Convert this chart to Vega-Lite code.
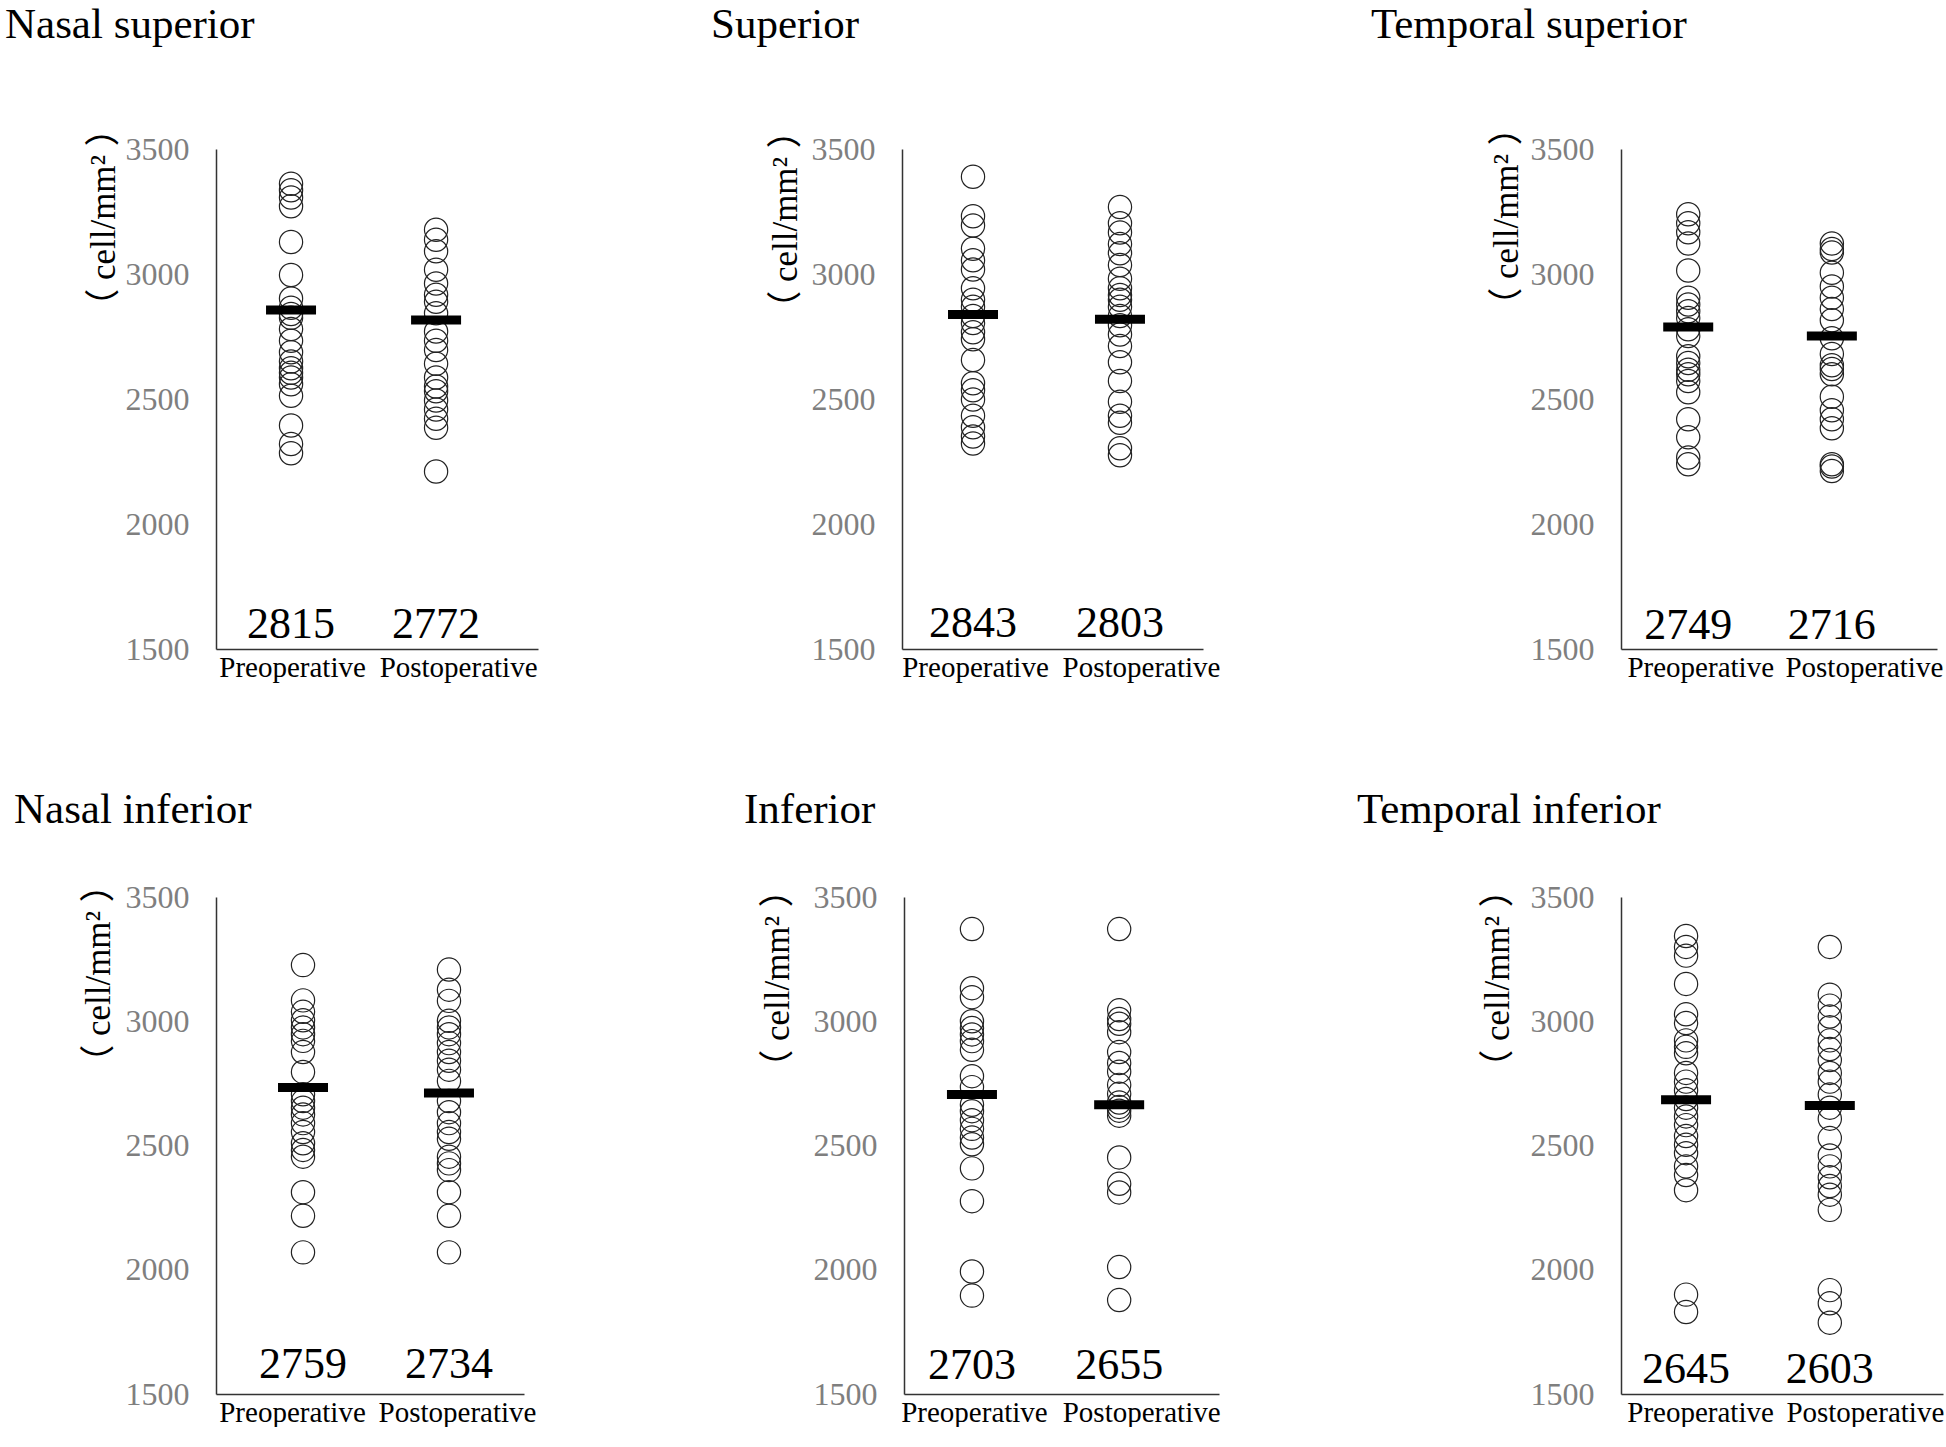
{
  "$schema": "https://vega.github.io/schema/vega-lite/v6.json",
  "padding": {"left": 5, "top": 3, "right": 0, "bottom": 0},
  "background": "white",
  "datasets": {
    "pts": [
      {"panel":"P1","phase":"Preoperative","value":3361},{"panel":"P1","phase":"Preoperative","value":3335},{"panel":"P1","phase":"Preoperative","value":3306},{"panel":"P1","phase":"Preoperative","value":3271},{"panel":"P1","phase":"Preoperative","value":3128},{"panel":"P1","phase":"Preoperative","value":2996},{"panel":"P1","phase":"Preoperative","value":2902},{"panel":"P1","phase":"Preoperative","value":2865},{"panel":"P1","phase":"Preoperative","value":2840},{"panel":"P1","phase":"Preoperative","value":2825},{"panel":"P1","phase":"Preoperative","value":2780},{"panel":"P1","phase":"Preoperative","value":2733},{"panel":"P1","phase":"Preoperative","value":2687},{"panel":"P1","phase":"Preoperative","value":2650},{"panel":"P1","phase":"Preoperative","value":2623},{"panel":"P1","phase":"Preoperative","value":2605},{"panel":"P1","phase":"Preoperative","value":2586},{"panel":"P1","phase":"Preoperative","value":2559},{"panel":"P1","phase":"Preoperative","value":2513},{"panel":"P1","phase":"Preoperative","value":2394},{"panel":"P1","phase":"Preoperative","value":2320},{"panel":"P1","phase":"Preoperative","value":2283},
      {"panel":"P1","phase":"Postoperative","value":3177},{"panel":"P1","phase":"Postoperative","value":3137},{"panel":"P1","phase":"Postoperative","value":3091},{"panel":"P1","phase":"Postoperative","value":3017},{"panel":"P1","phase":"Postoperative","value":2962},{"panel":"P1","phase":"Postoperative","value":2917},{"panel":"P1","phase":"Postoperative","value":2889},{"panel":"P1","phase":"Postoperative","value":2843},{"panel":"P1","phase":"Postoperative","value":2770},{"panel":"P1","phase":"Postoperative","value":2733},{"panel":"P1","phase":"Postoperative","value":2696},{"panel":"P1","phase":"Postoperative","value":2641},{"panel":"P1","phase":"Postoperative","value":2586},{"panel":"P1","phase":"Postoperative","value":2550},{"panel":"P1","phase":"Postoperative","value":2531},{"panel":"P1","phase":"Postoperative","value":2494},{"panel":"P1","phase":"Postoperative","value":2458},{"panel":"P1","phase":"Postoperative","value":2421},{"panel":"P1","phase":"Postoperative","value":2385},{"panel":"P1","phase":"Postoperative","value":2210},
      {"panel":"P2","phase":"Preoperative","value":3389},{"panel":"P2","phase":"Preoperative","value":3231},{"panel":"P2","phase":"Preoperative","value":3194},{"panel":"P2","phase":"Preoperative","value":3101},{"panel":"P2","phase":"Preoperative","value":3055},{"panel":"P2","phase":"Preoperative","value":3018},{"panel":"P2","phase":"Preoperative","value":2943},{"panel":"P2","phase":"Preoperative","value":2897},{"panel":"P2","phase":"Preoperative","value":2869},{"panel":"P2","phase":"Preoperative","value":2832},{"panel":"P2","phase":"Preoperative","value":2804},{"panel":"P2","phase":"Preoperative","value":2767},{"panel":"P2","phase":"Preoperative","value":2739},{"panel":"P2","phase":"Preoperative","value":2656},{"panel":"P2","phase":"Preoperative","value":2563},{"panel":"P2","phase":"Preoperative","value":2535},{"panel":"P2","phase":"Preoperative","value":2498},{"panel":"P2","phase":"Preoperative","value":2433},{"panel":"P2","phase":"Preoperative","value":2387},{"panel":"P2","phase":"Preoperative","value":2350},{"panel":"P2","phase":"Preoperative","value":2322},
      {"panel":"P2","phase":"Postoperative","value":3268},{"panel":"P2","phase":"Postoperative","value":3203},{"panel":"P2","phase":"Postoperative","value":3166},{"panel":"P2","phase":"Postoperative","value":3120},{"panel":"P2","phase":"Postoperative","value":3083},{"panel":"P2","phase":"Postoperative","value":3036},{"panel":"P2","phase":"Postoperative","value":2981},{"panel":"P2","phase":"Postoperative","value":2943},{"panel":"P2","phase":"Postoperative","value":2916},{"panel":"P2","phase":"Postoperative","value":2897},{"panel":"P2","phase":"Postoperative","value":2869},{"panel":"P2","phase":"Postoperative","value":2832},{"panel":"P2","phase":"Postoperative","value":2795},{"panel":"P2","phase":"Postoperative","value":2758},{"panel":"P2","phase":"Postoperative","value":2712},{"panel":"P2","phase":"Postoperative","value":2647},{"panel":"P2","phase":"Postoperative","value":2572},{"panel":"P2","phase":"Postoperative","value":2489},{"panel":"P2","phase":"Postoperative","value":2433},{"panel":"P2","phase":"Postoperative","value":2405},{"panel":"P2","phase":"Postoperative","value":2303},{"panel":"P2","phase":"Postoperative","value":2275},
      {"panel":"P3","phase":"Preoperative","value":3239},{"panel":"P3","phase":"Preoperative","value":3203},{"panel":"P3","phase":"Preoperative","value":3167},{"panel":"P3","phase":"Preoperative","value":3122},{"panel":"P3","phase":"Preoperative","value":3014},{"panel":"P3","phase":"Preoperative","value":2905},{"panel":"P3","phase":"Preoperative","value":2878},{"panel":"P3","phase":"Preoperative","value":2851},{"panel":"P3","phase":"Preoperative","value":2824},{"panel":"P3","phase":"Preoperative","value":2779},{"panel":"P3","phase":"Preoperative","value":2752},{"panel":"P3","phase":"Preoperative","value":2671},{"panel":"P3","phase":"Preoperative","value":2644},{"panel":"P3","phase":"Preoperative","value":2617},{"panel":"P3","phase":"Preoperative","value":2599},{"panel":"P3","phase":"Preoperative","value":2572},{"panel":"P3","phase":"Preoperative","value":2527},{"panel":"P3","phase":"Preoperative","value":2419},{"panel":"P3","phase":"Preoperative","value":2347},{"panel":"P3","phase":"Preoperative","value":2266},{"panel":"P3","phase":"Preoperative","value":2239},
      {"panel":"P3","phase":"Postoperative","value":3122},{"panel":"P3","phase":"Postoperative","value":3100},{"panel":"P3","phase":"Postoperative","value":3086},{"panel":"P3","phase":"Postoperative","value":3005},{"panel":"P3","phase":"Postoperative","value":2950},{"panel":"P3","phase":"Postoperative","value":2905},{"panel":"P3","phase":"Postoperative","value":2860},{"panel":"P3","phase":"Postoperative","value":2815},{"panel":"P3","phase":"Postoperative","value":2743},{"panel":"P3","phase":"Postoperative","value":2680},{"panel":"P3","phase":"Postoperative","value":2635},{"panel":"P3","phase":"Postoperative","value":2620},{"panel":"P3","phase":"Postoperative","value":2599},{"panel":"P3","phase":"Postoperative","value":2509},{"panel":"P3","phase":"Postoperative","value":2455},{"panel":"P3","phase":"Postoperative","value":2419},{"panel":"P3","phase":"Postoperative","value":2383},{"panel":"P3","phase":"Postoperative","value":2239},{"panel":"P3","phase":"Postoperative","value":2230},{"panel":"P3","phase":"Postoperative","value":2212},
      {"panel":"P4","phase":"Preoperative","value":3226},{"panel":"P4","phase":"Preoperative","value":3084},{"panel":"P4","phase":"Preoperative","value":3038},{"panel":"P4","phase":"Preoperative","value":3004},{"panel":"P4","phase":"Preoperative","value":2975},{"panel":"P4","phase":"Preoperative","value":2948},{"panel":"P4","phase":"Preoperative","value":2921},{"panel":"P4","phase":"Preoperative","value":2876},{"panel":"P4","phase":"Preoperative","value":2796},{"panel":"P4","phase":"Preoperative","value":2706},{"panel":"P4","phase":"Preoperative","value":2679},{"panel":"P4","phase":"Preoperative","value":2652},{"panel":"P4","phase":"Preoperative","value":2625},{"panel":"P4","phase":"Preoperative","value":2590},{"panel":"P4","phase":"Preoperative","value":2554},{"panel":"P4","phase":"Preoperative","value":2509},{"panel":"P4","phase":"Preoperative","value":2482},{"panel":"P4","phase":"Preoperative","value":2455},{"panel":"P4","phase":"Preoperative","value":2312},{"panel":"P4","phase":"Preoperative","value":2217},{"panel":"P4","phase":"Preoperative","value":2070},
      {"panel":"P4","phase":"Postoperative","value":3208},{"panel":"P4","phase":"Postoperative","value":3127},{"panel":"P4","phase":"Postoperative","value":3082},{"panel":"P4","phase":"Postoperative","value":3002},{"panel":"P4","phase":"Postoperative","value":2975},{"panel":"P4","phase":"Postoperative","value":2948},{"panel":"P4","phase":"Postoperative","value":2912},{"panel":"P4","phase":"Postoperative","value":2876},{"panel":"P4","phase":"Postoperative","value":2841},{"panel":"P4","phase":"Postoperative","value":2805},{"panel":"P4","phase":"Postoperative","value":2760},{"panel":"P4","phase":"Postoperative","value":2679},{"panel":"P4","phase":"Postoperative","value":2634},{"panel":"P4","phase":"Postoperative","value":2590},{"panel":"P4","phase":"Postoperative","value":2554},{"panel":"P4","phase":"Postoperative","value":2527},{"panel":"P4","phase":"Postoperative","value":2455},{"panel":"P4","phase":"Postoperative","value":2428},{"panel":"P4","phase":"Postoperative","value":2401},{"panel":"P4","phase":"Postoperative","value":2312},{"panel":"P4","phase":"Postoperative","value":2217},{"panel":"P4","phase":"Postoperative","value":2070},
      {"panel":"P5","phase":"Preoperative","value":3371},{"panel":"P5","phase":"Preoperative","value":3133},{"panel":"P5","phase":"Preoperative","value":3097},{"panel":"P5","phase":"Preoperative","value":3000},{"panel":"P5","phase":"Preoperative","value":2973},{"panel":"P5","phase":"Preoperative","value":2947},{"panel":"P5","phase":"Preoperative","value":2920},{"panel":"P5","phase":"Preoperative","value":2885},{"panel":"P5","phase":"Preoperative","value":2779},{"panel":"P5","phase":"Preoperative","value":2735},{"panel":"P5","phase":"Preoperative","value":2664},{"panel":"P5","phase":"Preoperative","value":2638},{"panel":"P5","phase":"Preoperative","value":2602},{"panel":"P5","phase":"Preoperative","value":2567},{"panel":"P5","phase":"Preoperative","value":2532},{"panel":"P5","phase":"Preoperative","value":2505},{"panel":"P5","phase":"Preoperative","value":2408},{"panel":"P5","phase":"Preoperative","value":2276},{"panel":"P5","phase":"Preoperative","value":1993},{"panel":"P5","phase":"Preoperative","value":1896},
      {"panel":"P5","phase":"Postoperative","value":3371},{"panel":"P5","phase":"Postoperative","value":3044},{"panel":"P5","phase":"Postoperative","value":3009},{"panel":"P5","phase":"Postoperative","value":2990},{"panel":"P5","phase":"Postoperative","value":2956},{"panel":"P5","phase":"Postoperative","value":2876},{"panel":"P5","phase":"Postoperative","value":2832},{"panel":"P5","phase":"Postoperative","value":2797},{"panel":"P5","phase":"Postoperative","value":2744},{"panel":"P5","phase":"Postoperative","value":2708},{"panel":"P5","phase":"Postoperative","value":2673},{"panel":"P5","phase":"Postoperative","value":2655},{"panel":"P5","phase":"Postoperative","value":2640},{"panel":"P5","phase":"Postoperative","value":2620},{"panel":"P5","phase":"Postoperative","value":2452},{"panel":"P5","phase":"Postoperative","value":2346},{"panel":"P5","phase":"Postoperative","value":2311},{"panel":"P5","phase":"Postoperative","value":2011},{"panel":"P5","phase":"Postoperative","value":1878},
      {"panel":"P6","phase":"Preoperative","value":3343},{"panel":"P6","phase":"Preoperative","value":3299},{"panel":"P6","phase":"Preoperative","value":3264},{"panel":"P6","phase":"Preoperative","value":3150},{"panel":"P6","phase":"Preoperative","value":3028},{"panel":"P6","phase":"Preoperative","value":2993},{"panel":"P6","phase":"Preoperative","value":2923},{"panel":"P6","phase":"Preoperative","value":2897},{"panel":"P6","phase":"Preoperative","value":2871},{"panel":"P6","phase":"Preoperative","value":2792},{"panel":"P6","phase":"Preoperative","value":2757},{"panel":"P6","phase":"Preoperative","value":2722},{"panel":"P6","phase":"Preoperative","value":2687},{"panel":"P6","phase":"Preoperative","value":2652},{"panel":"P6","phase":"Preoperative","value":2617},{"panel":"P6","phase":"Preoperative","value":2582},{"panel":"P6","phase":"Preoperative","value":2538},{"panel":"P6","phase":"Preoperative","value":2503},{"panel":"P6","phase":"Preoperative","value":2469},{"panel":"P6","phase":"Preoperative","value":2416},{"panel":"P6","phase":"Preoperative","value":2381},{"panel":"P6","phase":"Preoperative","value":2320},{"panel":"P6","phase":"Preoperative","value":1900},{"panel":"P6","phase":"Preoperative","value":1830},
      {"panel":"P6","phase":"Postoperative","value":3299},{"panel":"P6","phase":"Postoperative","value":3107},{"panel":"P6","phase":"Postoperative","value":3063},{"panel":"P6","phase":"Postoperative","value":3019},{"panel":"P6","phase":"Postoperative","value":2976},{"panel":"P6","phase":"Postoperative","value":2923},{"panel":"P6","phase":"Postoperative","value":2888},{"panel":"P6","phase":"Postoperative","value":2844},{"panel":"P6","phase":"Postoperative","value":2792},{"panel":"P6","phase":"Postoperative","value":2757},{"panel":"P6","phase":"Postoperative","value":2705},{"panel":"P6","phase":"Postoperative","value":2652},{"panel":"P6","phase":"Postoperative","value":2608},{"panel":"P6","phase":"Postoperative","value":2530},{"panel":"P6","phase":"Postoperative","value":2460},{"panel":"P6","phase":"Postoperative","value":2416},{"panel":"P6","phase":"Postoperative","value":2372},{"panel":"P6","phase":"Postoperative","value":2337},{"panel":"P6","phase":"Postoperative","value":2302},{"panel":"P6","phase":"Postoperative","value":2241},{"panel":"P6","phase":"Postoperative","value":1918},{"panel":"P6","phase":"Postoperative","value":1865},{"panel":"P6","phase":"Postoperative","value":1787}
    ],
    "means": [
      {"panel":"P1","phase":"Preoperative","value":2856,"label":"2815"},{"panel":"P1","phase":"Postoperative","value":2816,"label":"2772"},
      {"panel":"P2","phase":"Preoperative","value":2838,"label":"2843"},{"panel":"P2","phase":"Postoperative","value":2819,"label":"2803"},
      {"panel":"P3","phase":"Preoperative","value":2788,"label":"2749"},{"panel":"P3","phase":"Postoperative","value":2752,"label":"2716"},
      {"panel":"P4","phase":"Preoperative","value":2733,"label":"2759"},{"panel":"P4","phase":"Postoperative","value":2711,"label":"2734"},
      {"panel":"P5","phase":"Preoperative","value":2705,"label":"2703"},{"panel":"P5","phase":"Postoperative","value":2664,"label":"2655"},
      {"panel":"P6","phase":"Preoperative","value":2684,"label":"2645"},{"panel":"P6","phase":"Postoperative","value":2661,"label":"2603"}
    ]
  },
  "spacing": 106,
  "vconcat": [
    {
      "spacing": 364,
      "bounds": "flush",
      "hconcat": [
        {
          "width": 322, "height": 500,
          "title": {"text": "Nasal superior", "dx": -211, "offset": 64},
          "layer": [
            {"data": {"name": "pts"}, "transform": [{"filter": "datum.panel == 'P1'"}],
             "mark": {"type": "point", "shape": "circle", "filled": false, "size": 540, "color": "#222", "strokeWidth": 1.2, "opacity": 1},
             "encoding": {
               "x": {"field": "phase", "type": "nominal", "scale": {"type": "point", "domain": ["Preoperative", "Postoperative"], "padding": 0.61, "align": 0.424}, "axis": {"title": null, "labelOffset": {"condition": {"test": "datum.value == 'Postoperative'", "value": 22}, "value": 1}}},
               "y": {"field": "value", "type": "quantitative", "scale": {"domain": [1500, 3500], "nice": false, "zero": false}, "axis": {"values": [1500, 2000, 2500, 3000, 3500], "format": "d", "title": "（ cell/mm² ）", "titleX": -113, "titleY": 68}}}},
            {"data": {"name": "means"}, "transform": [{"filter": "datum.panel == 'P1'"}],
             "mark": {"type": "tick", "orient": "horizontal", "size": 50, "thickness": 9, "color": "#000", "opacity": 1},
             "encoding": {"x": {"field": "phase", "type": "nominal"}, "y": {"field": "value", "type": "quantitative"}}},
            {"data": {"name": "means"}, "transform": [{"filter": "datum.panel == 'P1'"}],
             "mark": {"type": "text", "fontSize": 44, "font": "Liberation Serif", "baseline": "alphabetic", "dy": -11, "color": "#000"},
             "encoding": {"x": {"field": "phase", "type": "nominal"}, "y": {"datum": 1500}, "text": {"field": "label"}}}
          ]
        },
        {
          "spacing": 418,
          "bounds": "flush",
          "hconcat": [
            {
              "width": 301, "height": 500,
              "title": {"text": "Superior", "dx": -191, "offset": 66},
              "layer": [
                {"data": {"name": "pts"}, "transform": [{"filter": "datum.panel == 'P2'"}],
                 "mark": {"type": "point", "shape": "circle", "filled": false, "size": 540, "color": "#222", "strokeWidth": 1.2, "opacity": 1},
                 "encoding": {
                   "x": {"field": "phase", "type": "nominal", "scale": {"type": "point", "domain": ["Preoperative", "Postoperative"], "padding": 0.524, "align": 0.461}, "axis": {"title": null, "labelOffset": {"condition": {"test": "datum.value == 'Postoperative'", "value": 21}, "value": 2}}},
                   "y": {"field": "value", "type": "quantitative", "scale": {"domain": [1500, 3500], "nice": false, "zero": false}, "axis": {"values": [1500, 2000, 2500, 3000, 3500], "format": "d", "title": "（ cell/mm² ）", "titleX": -117, "titleY": 70}}}},
                {"data": {"name": "means"}, "transform": [{"filter": "datum.panel == 'P2'"}],
                 "mark": {"type": "tick", "orient": "horizontal", "size": 50, "thickness": 9, "color": "#000", "opacity": 1},
                 "encoding": {"x": {"field": "phase", "type": "nominal"}, "y": {"field": "value", "type": "quantitative"}}},
                {"data": {"name": "means"}, "transform": [{"filter": "datum.panel == 'P2'"}],
                 "mark": {"type": "text", "fontSize": 44, "font": "Liberation Serif", "baseline": "alphabetic", "dy": -12, "color": "#000"},
                 "encoding": {"x": {"field": "phase", "type": "nominal"}, "y": {"datum": 1500}, "text": {"field": "label"}}}
              ]
            },
            {
              "width": 316, "height": 500,
              "title": {"text": "Temporal superior", "dx": -250, "offset": 63},
              "layer": [
                {"data": {"name": "pts"}, "transform": [{"filter": "datum.panel == 'P3'"}],
                 "mark": {"type": "point", "shape": "circle", "filled": false, "size": 540, "color": "#222", "strokeWidth": 1.2, "opacity": 1},
                 "encoding": {
                   "x": {"field": "phase", "type": "nominal", "scale": {"type": "point", "domain": ["Preoperative", "Postoperative"], "padding": 0.6, "align": 0.39}, "axis": {"title": null, "labelOffset": {"condition": {"test": "datum.value == 'Postoperative'", "value": 32}, "value": 12}}},
                   "y": {"field": "value", "type": "quantitative", "scale": {"domain": [1500, 3500], "nice": false, "zero": false}, "axis": {"values": [1500, 2000, 2500, 3000, 3500], "format": "d", "title": "（ cell/mm² ）", "titleX": -115, "titleY": 67}}}},
                {"data": {"name": "means"}, "transform": [{"filter": "datum.panel == 'P3'"}],
                 "mark": {"type": "tick", "orient": "horizontal", "size": 50, "thickness": 9, "color": "#000", "opacity": 1},
                 "encoding": {"x": {"field": "phase", "type": "nominal"}, "y": {"field": "value", "type": "quantitative"}}},
                {"data": {"name": "means"}, "transform": [{"filter": "datum.panel == 'P3'"}],
                 "mark": {"type": "text", "fontSize": 44, "font": "Liberation Serif", "baseline": "alphabetic", "dy": -10, "color": "#000"},
                 "encoding": {"x": {"field": "phase", "type": "nominal"}, "y": {"datum": 1500}, "text": {"field": "label"}}}
              ]
            }
          ]
        }
      ]
    },
    {
      "spacing": 380,
      "bounds": "flush",
      "hconcat": [
        {
          "width": 308, "height": 497,
          "title": {"text": "Nasal inferior", "dx": -202, "offset": 35},
          "layer": [
            {"data": {"name": "pts"}, "transform": [{"filter": "datum.panel == 'P4'"}],
             "mark": {"type": "point", "shape": "circle", "filled": false, "size": 540, "color": "#222", "strokeWidth": 1.2, "opacity": 1},
             "encoding": {
               "x": {"field": "phase", "type": "nominal", "scale": {"type": "point", "domain": ["Preoperative", "Postoperative"], "padding": 0.555, "align": 0.537}, "axis": {"title": null, "labelOffset": {"condition": {"test": "datum.value == 'Postoperative'", "value": 8}, "value": -11}}},
               "y": {"field": "value", "type": "quantitative", "scale": {"domain": [1500, 3500], "nice": false, "zero": false}, "axis": {"values": [1500, 2000, 2500, 3000, 3500], "format": "d", "title": "（ cell/mm² ）", "titleX": -118, "titleY": 76}}}},
            {"data": {"name": "means"}, "transform": [{"filter": "datum.panel == 'P4'"}],
             "mark": {"type": "tick", "orient": "horizontal", "size": 50, "thickness": 9, "color": "#000", "opacity": 1},
             "encoding": {"x": {"field": "phase", "type": "nominal"}, "y": {"field": "value", "type": "quantitative"}}},
            {"data": {"name": "means"}, "transform": [{"filter": "datum.panel == 'P4'"}],
             "mark": {"type": "text", "fontSize": 44, "font": "Liberation Serif", "baseline": "alphabetic", "dy": -16, "color": "#000"},
             "encoding": {"x": {"field": "phase", "type": "nominal"}, "y": {"datum": 1500}, "text": {"field": "label"}}}
          ]
        },
        {
          "spacing": 402,
          "bounds": "flush",
          "hconcat": [
            {
              "width": 315, "height": 497,
              "title": {"text": "Inferior", "dx": -160, "offset": 40},
              "layer": [
                {"data": {"name": "pts"}, "transform": [{"filter": "datum.panel == 'P5'"}],
                 "mark": {"type": "point", "shape": "circle", "filled": false, "size": 540, "color": "#222", "strokeWidth": 1.2, "opacity": 1},
                 "encoding": {
                   "x": {"field": "phase", "type": "nominal", "scale": {"type": "point", "domain": ["Preoperative", "Postoperative"], "padding": 0.57, "align": 0.405}, "axis": {"title": null, "labelOffset": {"condition": {"test": "datum.value == 'Postoperative'", "value": 22}, "value": 2}}},
                   "y": {"field": "value", "type": "quantitative", "scale": {"domain": [1500, 3500], "nice": false, "zero": false}, "axis": {"values": [1500, 2000, 2500, 3000, 3500], "format": "d", "title": "（ cell/mm² ）", "titleX": -127, "titleY": 81}}}},
                {"data": {"name": "means"}, "transform": [{"filter": "datum.panel == 'P5'"}],
                 "mark": {"type": "tick", "orient": "horizontal", "size": 50, "thickness": 9, "color": "#000", "opacity": 1},
                 "encoding": {"x": {"field": "phase", "type": "nominal"}, "y": {"field": "value", "type": "quantitative"}}},
                {"data": {"name": "means"}, "transform": [{"filter": "datum.panel == 'P5'"}],
                 "mark": {"type": "text", "fontSize": 44, "font": "Liberation Serif", "baseline": "alphabetic", "dy": -15, "color": "#000"},
                 "encoding": {"x": {"field": "phase", "type": "nominal"}, "y": {"datum": 1500}, "text": {"field": "label"}}}
              ]
            },
            {
              "width": 322, "height": 497,
              "title": {"text": "Temporal inferior", "dx": -264, "offset": 40},
              "layer": [
                {"data": {"name": "pts"}, "transform": [{"filter": "datum.panel == 'P6'"}],
                 "mark": {"type": "point", "shape": "circle", "filled": false, "size": 540, "color": "#222", "strokeWidth": 1.2, "opacity": 1},
                 "encoding": {
                   "x": {"field": "phase", "type": "nominal", "scale": {"type": "point", "domain": ["Preoperative", "Postoperative"], "padding": 0.62, "align": 0.365}, "axis": {"title": null, "labelOffset": {"condition": {"test": "datum.value == 'Postoperative'", "value": 35}, "value": 14}}},
                   "y": {"field": "value", "type": "quantitative", "scale": {"domain": [1500, 3500], "nice": false, "zero": false}, "axis": {"values": [1500, 2000, 2500, 3000, 3500], "format": "d", "title": "（ cell/mm² ）", "titleX": -124, "titleY": 81}}}},
                {"data": {"name": "means"}, "transform": [{"filter": "datum.panel == 'P6'"}],
                 "mark": {"type": "tick", "orient": "horizontal", "size": 50, "thickness": 9, "color": "#000", "opacity": 1},
                 "encoding": {"x": {"field": "phase", "type": "nominal"}, "y": {"field": "value", "type": "quantitative"}}},
                {"data": {"name": "means"}, "transform": [{"filter": "datum.panel == 'P6'"}],
                 "mark": {"type": "text", "fontSize": 44, "font": "Liberation Serif", "baseline": "alphabetic", "dy": -11, "color": "#000"},
                 "encoding": {"x": {"field": "phase", "type": "nominal"}, "y": {"datum": 1500}, "text": {"field": "label"}}}
              ]
            }
          ]
        }
      ]
    }
  ],
  "config": {
    "view": {"stroke": null},
    "font": "Liberation Serif",
    "title": {"anchor": "start", "frame": "group", "fontSize": 43, "font": "Liberation Serif", "fontWeight": "normal", "color": "#000", "baseline": "alphabetic"},
    "axis": {"grid": false, "ticks": false, "domainColor": "#333", "domainWidth": 1.5, "labelFont": "Liberation Serif"},
    "axisX": {"labelFontSize": 29, "labelColor": "#000", "labelPadding": 4, "labelAngle": 0},
    "axisY": {"labelFontSize": 32, "labelColor": "#7f7f7f", "labelPadding": 27, "titleFont": "Liberation Serif, 'Noto Sans CJK JP'", "titleFontSize": 35, "titleFontWeight": "normal", "titleColor": "#000", "titleAngle": -90, "titleAlign": "center", "titleBaseline": "middle"}
  }
}
